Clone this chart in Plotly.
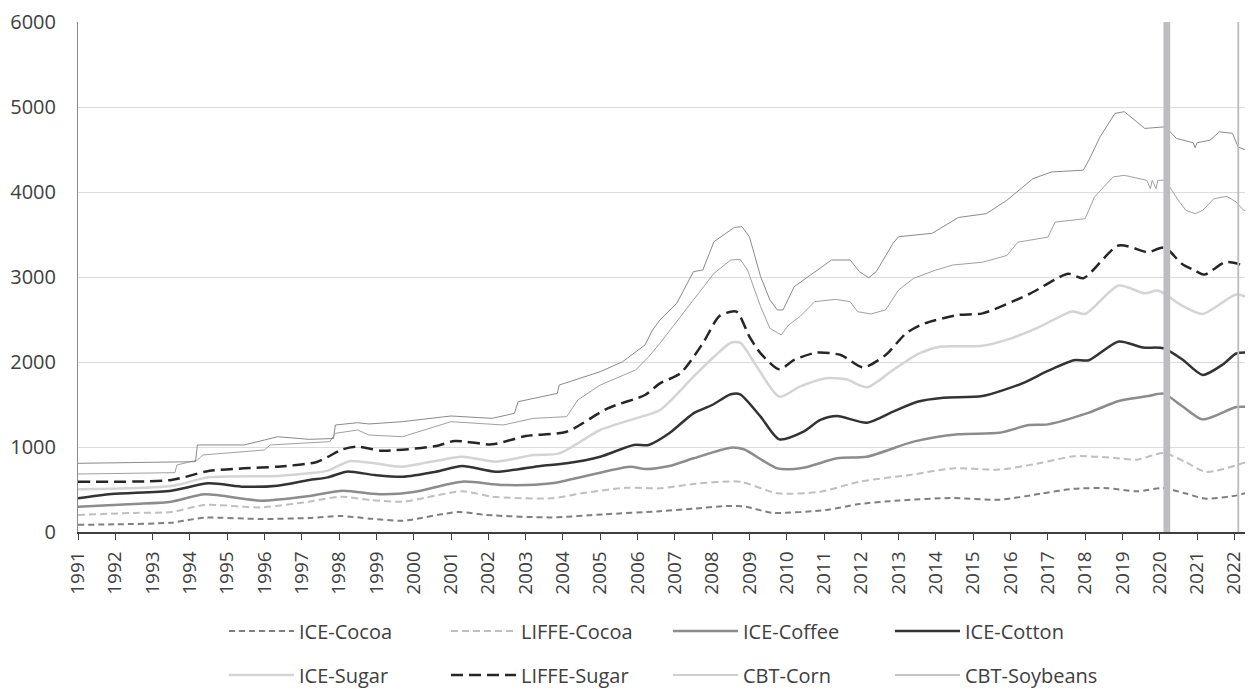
import plotly.graph_objects as go

# ---------------- data (x = decimal year) ----------------
ice_cocoa_x = [1991.0, 1992.0, 1993.5, 1994.4, 1995.9, 1997.2, 1998.05, 1998.85, 1999.7, 2001.2, 2001.95,
               2003.7, 2005.1, 2006.6, 2007.5, 2008.4, 2008.9, 2009.6, 2011.05, 2011.95, 2013.0, 2014.4,
               2015.7, 2016.8, 2017.7, 2018.6, 2019.4, 2020.1, 2020.7, 2021.25, 2022.07, 2022.4]
ice_cocoa_y = [85, 90, 110, 168, 153, 165, 188, 157, 133, 235, 200,
               172, 208, 245, 275, 306, 298, 227, 259, 329, 370, 400,
               380, 450, 509, 515, 479, 517, 452, 392, 431, 470]

liffe_cocoa_x = [1991.0, 1992.5, 1993.5, 1994.4, 1995.9, 1997.2, 1998.05, 1998.85, 1999.7, 2001.3, 2002.1,
                 2003.7, 2004.5, 2005.7, 2006.6, 2007.5, 2008.75, 2009.75, 2010.9, 2011.95, 2013.3, 2014.5,
                 2015.7, 2016.8, 2017.7, 2018.8, 2019.4, 2020.1, 2020.7, 2021.25, 2022.4]
liffe_cocoa_y = [200, 225, 235, 318, 290, 357, 416, 376, 357, 478, 416,
                 396, 455, 521, 514, 565, 592, 455, 474, 592, 671, 750,
                 734, 812, 891, 871, 851, 930, 820, 707, 835]

ice_coffee_x = [1991.0, 1992.5, 1993.5, 1994.4, 1995.9, 1997.2, 1998.1, 1998.9, 1999.2, 2000.0, 2001.3, 2002.4,
                2003.7, 2005.8, 2006.2, 2006.85, 2007.5, 2008.5, 2008.85, 2009.75, 2010.45, 2011.35, 2012.15,
                2013.4, 2014.6, 2015.7, 2016.5, 2017.0, 2018.1, 2018.9, 2019.7, 2020.1, 2020.6, 2021.15,
                2022.05, 2022.4]
ice_coffee_y = [298, 330, 357, 443, 369, 424, 486, 450, 443, 470, 592, 553,
                573, 769, 740, 776, 867, 992, 973, 749, 757, 867, 886,
                1063, 1150, 1167, 1258, 1266, 1404, 1541, 1600, 1628, 1482, 1325,
                1470, 1470]

ice_cotton_x = [1991.0, 1991.9, 1993.5, 1994.5, 1995.45, 1996.35, 1997.2, 1997.7, 1998.2, 1998.95, 1999.7,
                2000.6, 2001.3, 2002.2, 2003.4, 2004.1, 2005.0, 2005.9, 2006.3, 2006.85, 2007.5, 2008.0,
                2008.5, 2008.75, 2009.3, 2009.8, 2010.45, 2010.9, 2011.35, 2012.15, 2012.85, 2013.5,
                2014.2, 2015.25, 2016.3, 2017.0, 2017.7, 2018.1, 2018.9, 2019.55, 2020.1, 2020.6,
                2021.15, 2021.7, 2022.05, 2022.4]
ice_cotton_y = [396, 447, 486, 573, 533, 545, 612, 643, 710, 671, 651,
                710, 776, 710, 776, 808, 886, 1024, 1024, 1161, 1396, 1494,
                1620, 1620, 1357, 1090, 1180, 1318, 1365, 1286, 1416, 1533,
                1580, 1600, 1746, 1895, 2021, 2021, 2241, 2171, 2162, 2033,
                1848, 1974, 2100, 2112]

ice_sugar_x = [1991.0, 1993.5, 1994.5, 1996.35, 1997.2, 1997.7, 1998.3, 1998.95, 1999.7, 2001.3, 2002.2,
               2003.2, 2003.9, 2005.0, 2005.95, 2006.6, 2007.5, 2008.05, 2008.5, 2008.75, 2009.2, 2009.8,
               2010.35, 2011.05, 2011.6, 2012.15, 2012.85, 2013.55, 2014.1, 2015.25, 2015.95, 2016.75,
               2017.65, 2018.0, 2018.9, 2019.6, 2019.95, 2020.6, 2021.15, 2022.05, 2022.4]
ice_sugar_y = [502, 541, 643, 659, 690, 722, 835, 808, 769, 886, 827,
               906, 925, 1200, 1337, 1435, 1827, 2062, 2227, 2227, 1945, 1592,
               1710, 1808, 1796, 1702, 1906, 2102, 2180, 2190, 2269, 2407,
               2595, 2565, 2899, 2808, 2840, 2662, 2565, 2793, 2753]

liffe_sugar_x = [1991.0, 1993.5, 1994.5, 1995.45, 1996.35, 1997.4, 1998.1, 1998.5, 1999.15, 2000.6, 2001.1,
                 2002.1, 2003.0, 2004.1, 2005.2, 2006.2, 2006.6, 2007.15, 2007.75, 2008.2, 2008.65, 2009.0,
                 2009.3, 2009.8, 2010.2, 2010.8, 2011.45, 2012.05, 2012.65, 2013.2, 2013.7, 2014.6,
                 2015.25, 2016.5, 2017.55, 2017.95, 2018.9, 2019.7, 2019.95, 2020.15, 2020.6, 2020.95,
                 2021.2, 2021.75, 2022.05, 2022.3]
liffe_sugar_y = [592, 612, 718, 749, 769, 824, 973, 1004, 957, 1012, 1071,
                 1031, 1129, 1180, 1455, 1612, 1749, 1867, 2220, 2541, 2592, 2298,
                 2102, 1914, 2024, 2110, 2082, 1937, 2082, 2337, 2455, 2553,
                 2572, 2800, 3037, 2985, 3371, 3292, 3332, 3344, 3154, 3075,
                 3028, 3174, 3162, 3115]

cbt_corn_x = [1991.0, 1993.6, 1993.65, 1994.2, 1994.35, 1996.0, 1996.15, 1997.75, 1997.9, 1998.5, 1998.8,
              1999.7, 2001.0, 2002.4, 2003.2, 2004.1, 2004.4, 2005.0, 2005.95, 2006.3, 2006.6, 2007.05,
              2007.5, 2008.05, 2008.5, 2008.75, 2008.95, 2009.3, 2009.55, 2009.85, 2010.05, 2010.35,
              2010.75, 2011.3, 2011.7, 2011.9, 2012.25, 2012.65, 2013.0, 2013.4, 2014.0, 2014.45,
              2015.25, 2015.9, 2016.2, 2017.0, 2017.2, 2018.0, 2018.25, 2018.75, 2019.05, 2019.65,
              2019.75, 2019.8, 2019.9, 2019.95, 2020.15, 2020.5, 2020.7, 2020.95, 2021.15, 2021.45,
              2021.8, 2022.05, 2022.25, 2022.4]
cbt_corn_y = [682, 698, 788, 847, 906, 965, 1024, 1063, 1161, 1200, 1141,
              1121, 1298, 1259, 1337, 1357, 1553, 1729, 1906, 2062, 2220, 2474,
              2729, 3043, 3200, 3208, 3082, 2651, 2396, 2318, 2435, 2533,
              2710, 2737, 2710, 2592, 2565, 2612, 2847, 2984, 3082, 3141,
              3174, 3253, 3410, 3469, 3646, 3686, 3941, 4177, 4196, 4138,
              4040, 4138, 4040, 4138, 4138, 3902, 3784, 3745, 3784, 3921,
              3949, 3882, 3784, 3780]

cbt_soy_x = [1991.0, 1993.5, 1994.15, 1994.2, 1995.45, 1996.0, 1996.35, 1997.2, 1997.85, 1997.9, 1998.5,
             1998.8, 1999.7, 2001.0, 2002.1, 2002.7, 2002.8, 2003.85, 2003.9, 2005.0, 2005.6, 2006.2,
             2006.4, 2006.6, 2007.05, 2007.5, 2007.75, 2008.05, 2008.6, 2008.8, 2009.0, 2009.3, 2009.55,
             2009.75, 2009.9, 2010.2, 2010.75, 2011.2, 2011.7, 2011.95, 2012.2, 2012.4, 2012.85, 2013.0,
             2013.9, 2014.25, 2014.6, 2015.35, 2015.9, 2016.6, 2017.1, 2017.95, 2018.1, 2018.4, 2018.8,
             2019.05, 2019.6, 2020.15, 2020.45, 2020.9, 2020.95, 2021.0, 2021.35, 2021.6, 2021.95,
             2022.1, 2022.4]
cbt_soy_y = [808, 827, 827, 1024, 1024, 1082, 1121, 1090, 1100, 1259, 1286,
             1271, 1298, 1365, 1337, 1396, 1533, 1631, 1729, 1886, 2004, 2200,
             2376, 2494, 2690, 3063, 3082, 3416, 3584, 3592, 3474, 3004, 2729,
             2612, 2612, 2886, 3063, 3200, 3200, 3063, 2992, 3063, 3396, 3474,
             3514, 3612, 3700, 3745, 3902, 4157, 4236, 4257, 4374, 4649, 4925,
             4945, 4748, 4767, 4630, 4579, 4520, 4579, 4610, 4708, 4690,
             4532, 4473]

year_ticks = list(range(1991, 2023))
event_bands = [(2020.10, 2020.28), (2022.08, 2022.13)]

# ---------------- figure ----------------
FONT = "Open Sans"
fig = go.Figure()

series = [
    ("ICE-Cocoa", ice_cocoa_x, ice_cocoa_y, "#7f7f7f", 2, "6px,4px", "spline", "legend"),
    ("LIFFE-Cocoa", liffe_cocoa_x, liffe_cocoa_y, "#bfbfbf", 2, "7px,4px", "spline", "legend"),
    ("ICE-Coffee", ice_coffee_x, ice_coffee_y, "#8c8c8c", 2.5, "solid", "spline", "legend"),
    ("ICE-Cotton", ice_cotton_x, ice_cotton_y, "#333333", 2.5, "solid", "spline", "legend"),
    ("ICE-Sugar", ice_sugar_x, ice_sugar_y, "#d4d4d4", 2.5, "solid", "spline", "legend2"),
    ("LIFFE-Sugar", liffe_sugar_x, liffe_sugar_y, "#262626", 2.5, "12px,6px", "spline", "legend2"),
    ("CBT-Corn", cbt_corn_x, cbt_corn_y, "#a0a0a0", 1, "solid", "linear", "legend2"),
    ("CBT-Soybeans", cbt_soy_x, cbt_soy_y, "#8a8a8a", 1, "solid", "linear", "legend2"),
]
for name, xs, ys, col, w, dash, shape, lg in series:
    line = dict(color=col, width=w, dash=dash, shape=shape)
    if shape == "spline":
        line["smoothing"] = 0.7
    fig.add_trace(go.Scatter(x=xs, y=ys, mode="lines", name=name, line=line, legend=lg))

for x0, x1 in event_bands:
    fig.add_shape(type="rect", xref="x", yref="paper", x0=x0, x1=x1, y0=0, y1=1,
                  fillcolor="#bdbdc1", line=dict(width=0), layer="above")

legend_common = dict(orientation="h", xanchor="left", yanchor="middle",
                     font=dict(family=FONT, size=20, color="#404040"),
                     itemwidth=65,
                     entrywidth=142, entrywidthmode="pixels", bgcolor="rgba(0,0,0,0)")

# page has an 8px body margin: figure is drawn at (8, 8)
LEG_X = (224 - 78) / 1172

fig.update_layout(
    width=1245, height=681,
    margin=dict(l=70, r=3, t=14, b=157, autoexpand=False),
    plot_bgcolor="white", paper_bgcolor="white",
    font=dict(family=FONT, color="#404040"),
    legend=dict(x=LEG_X, y=-(631 - 532) / 510, **legend_common),
    legend2=dict(x=LEG_X, y=-(675 - 532) / 510, **legend_common),
    xaxis=dict(range=[1991, 2022.42], tickmode="array", tickvals=year_ticks,
               ticktext=[str(y) for y in year_ticks], tickangle=-90, automargin=False,
               ticks="outside", ticklen=6, tickcolor="#404040", tickwidth=1,
               ticklabelstandoff=4,
               showline=True, linecolor="#404040", linewidth=1.5,
               showgrid=False, zeroline=False,
               tickfont=dict(family=FONT, size=19, color="#404040")),
    yaxis=dict(range=[0, 6000], tickvals=[0, 1000, 2000, 3000, 4000, 5000, 6000],
               showgrid=True, gridcolor="#dcdcdc", gridwidth=1, automargin=False,
               showline=True, linecolor="#8c8c8c", linewidth=1, mirror=True,
               zeroline=False, ticks="", ticklabelstandoff=17,
               tickfont=dict(family=FONT, size=20, color="#404040")),
)

fig.write_html("out.html")
